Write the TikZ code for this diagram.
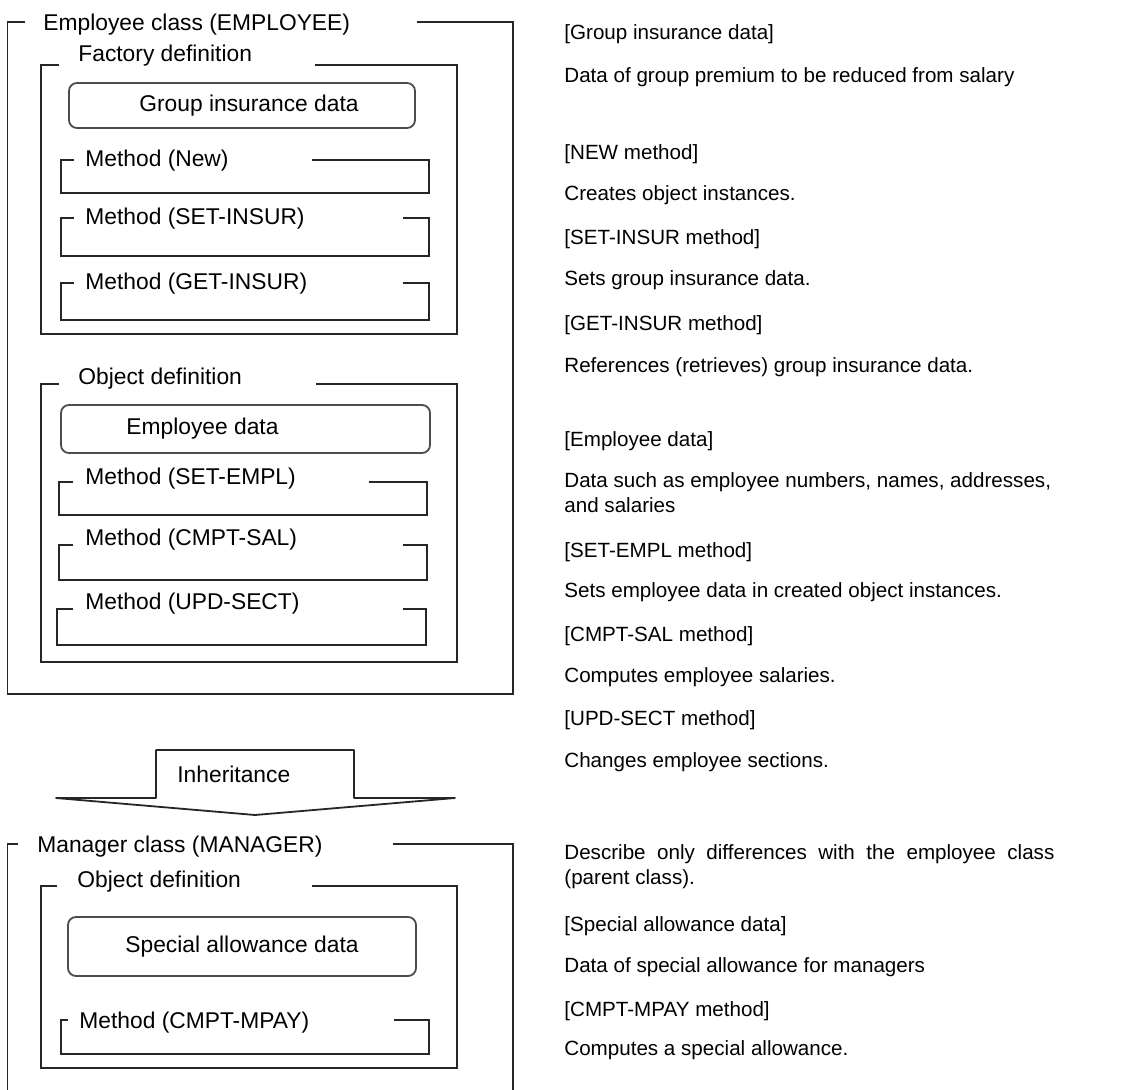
\documentclass[tikz,border=0pt]{standalone}
\usepackage{fontspec}
\setmainfont{Liberation Sans}
\usepackage{tikz}
\usetikzlibrary{positioning}
\newcommand{\boxsz}{\fontsize{11.4}{13}\selectfont}
\newcommand{\notesz}{\fontsize{10.3}{12.5}\selectfont}
% frame with a gap in its top edge for the title
% #1 left, #2 top, #3 right, #4 bottom, #5 end of left tick, #6 start of right part
\newcommand{\gapframe}[6]{\draw[frameline] (#5,#2) -- (#1,#2) -- (#1,#4) -- (#3,#4) -- (#3,#2) -- (#6,#2);}
\tikzset{frameline/.style={line width=0.9pt,black!85},
  databox/.style={draw=black!70,line width=0.9pt,rounded corners=4pt,font=\boxsz,inner sep=0pt},
  ttl/.style={anchor=base west,inner sep=0pt,font=\boxsz},
  note/.style={anchor=base west,inner sep=0pt,font=\notesz,align=left}}

\begin{document}
\begin{tikzpicture}[x=0.5pt,y=-0.5pt]
\useasboundingbox (0,0) rectangle (1139,1090);

% employee class
\gapframe{7.5}{22}{513}{694}{25}{417}
\node[ttl] (empcls) at (43,31) {Employee class (EMPLOYEE)};

\gapframe{41}{65}{457}{334}{59}{315}
\node[ttl] (factdef) at (78,62) {Factory definition};
\node[databox,minimum width=173pt,minimum height=22.5pt] (grpins) at (242,105.5) {\hspace*{7pt}Group insurance data};
\gapframe{61}{160}{429}{193}{74}{312}
\node[ttl] (mnew) at (85,167) {Method (New)};
\gapframe{61}{218}{429}{256}{74}{403}
\node[ttl] (msetins) at (85,225) {Method (SET-INSUR)};
\gapframe{61}{283}{429}{320}{74}{403}
\node[ttl] (mgetins) at (85,290) {Method (GET-INSUR)};

\gapframe{41}{384}{457}{662}{59}{316}
\node[ttl] (objdef) at (78,385) {Object definition};
\node[databox,minimum width=184.5pt,minimum height=24pt] (empdata) at (245.5,429) {Employee data\hspace*{43pt}};
\gapframe{59}{482}{427}{515}{73}{369}
\node[ttl] (msetempl) at (85,485) {Method (SET-EMPL)};
\gapframe{59}{545}{427}{580}{73}{403}
\node[ttl] (mcmptsal) at (85,545) {Method (CMPT-SAL)};
\gapframe{57}{609}{426}{645}{73}{403}
\node[ttl] (mupdsect) at (85,609) {Method (UPD-SECT)};

% inheritance arrow
\draw[frameline,line join=round] (156,798) -- (156,750) -- (354,750) -- (354,798) -- (455,798) -- (255,815) -- (56,798) -- cycle;
\node[ttl] (inherit) at (177,782) {Inheritance};

% manager class, open at the bottom
\draw[frameline] (18,844) -- (7.5,844) -- (7.5,1092);
\draw[frameline] (393,844) -- (513,844) -- (513,1092);
\node[ttl] (mgrcls) at (37,852) {Manager class (MANAGER)};
\gapframe{41}{886}{457}{1068}{57}{312}
\node[ttl] (mobjdef) at (77,887) {Object definition};
\node[databox,minimum width=174pt,minimum height=29.5pt] (spcall) at (242,946.5) {Special allowance data};
\gapframe{61}{1020}{429}{1054}{68}{394}
\node[ttl] (mcmptmpay) at (79,1028) {Method (CMPT-MPAY)};

% notes on the right
\node[note] (n1) at (564,40) {[Group insurance data]};
\node[note] (n2) at (564,83) {Data of group premium to be reduced from salary};
\node[note] (n3) at (564,160) {[NEW method]};
\node[note] (n4) at (564,201) {Creates object instances.};
\node[note] (n5) at (564,245) {[SET-INSUR method]};
\node[note] (n6) at (564,286) {Sets group insurance data.};
\node[note] (n7) at (564,331) {[GET-INSUR method]};
\node[note] (n8) at (564,373) {References (retrieves) group insurance data.};
\node[note] (n9) at (564,446) {[Employee data]};
\node[note] (n10) at (564,512) {Data such as employee numbers, names, addresses,\\and salaries};
\node[note] (n11) at (564,557) {[SET-EMPL method]};
\node[note] (n12) at (564,597) {Sets employee data in created object instances.};
\node[note] (n13) at (564,641) {[CMPT-SAL method]};
\node[note] (n14) at (564,682) {Computes employee salaries.};
\node[note] (n15) at (564,725) {[UPD-SECT method]};
\node[note] (n16) at (564,767) {Changes employee sections.};
\node[note,text width=245pt,align=justify] (n17) at (564,859) {Describe only differences with the employee class\linebreak (parent class).};
\node[note] (n18) at (564,931) {[Special allowance data]};
\node[note] (n19) at (564,972) {Data of special allowance for managers};
\node[note] (n20) at (564,1016) {[CMPT-MPAY method]};
\node[note] (n21) at (564,1055) {Computes a special allowance.};
\end{tikzpicture}
\end{document}
